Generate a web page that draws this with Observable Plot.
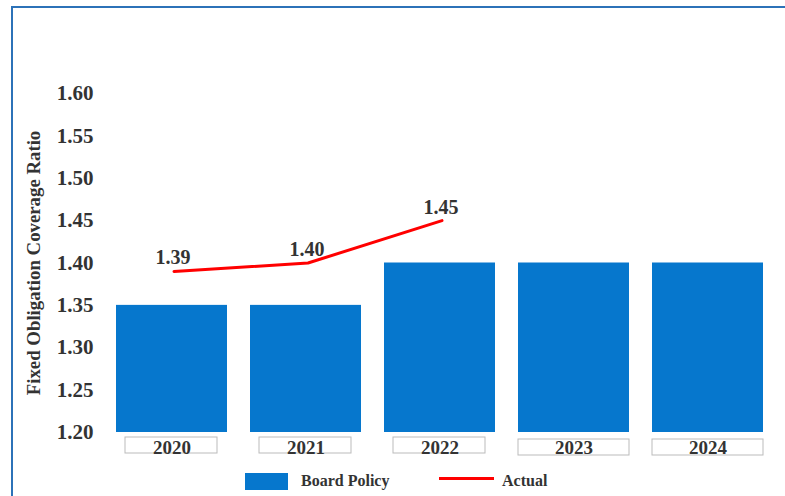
<!DOCTYPE html>
<html>
<head>
<meta charset="utf-8">
<script src="https://cdn.jsdelivr.net/npm/d3@7"></script>
<script src="https://cdn.jsdelivr.net/npm/@observablehq/plot@0.6"></script>
<style>
  html, body { margin: 0; padding: 0; background: #fff; }
  body { width: 785px; height: 496px; position: relative; overflow: hidden;
         font-family: "Liberation Serif", "Times New Roman", serif; }
  #frame { position: absolute; left: 11px; top: 6px; width: 800px; height: 520px;
           border-left: 2px solid #2C72B8; border-top: 2px solid #2C72B8; }
  #chart { position: absolute; left: 0; top: 0; }
  #legend { position: absolute; left: 0; top: 470px; width: 785px; height: 26px;
            font-weight: bold; font-size: 16px; color: #333; }
  .sw { position: absolute; }
  .lt { position: absolute; top: 2px; }
</style>
</head>
<body>
<div id="frame"></div>
<div id="chart"></div>
<div id="legend">
  <div class="sw" style="left:245px; top:3px; width:43px; height:17px; background:#0677CD;"></div>
  <div class="lt" style="left:301px;">Board Policy</div>
  <div class="sw" style="left:439px; top:7px; width:55px; height:3px; background:#FF0000;"></div>
  <div class="lt" style="left:502px;">Actual</div>
</div>
<script>
const years = ["2020", "2021", "2022", "2023", "2024"];
const boardPolicy = [1.35, 1.35, 1.40, 1.40, 1.40];
const actualYears = ["2020", "2021", "2022"];
const actual = [1.39, 1.40, 1.45];
const yTicks = [1.20, 1.25, 1.30, 1.35, 1.40, 1.45, 1.50, 1.55, 1.60];

const barData = years.map((y, i) => ({year: y, value: boardPolicy[i]}));
const lineData = actualYears.map((y, i) => ({year: y, value: actual[i]}));
const textColor = "#333333";

const chart = Plot.plot({
  width: 785,
  height: 470,
  marginTop: 93,
  marginBottom: 38,
  marginLeft: 105,
  marginRight: 10,
  style: {fontFamily: "'Liberation Serif', 'Times New Roman', serif", background: "transparent", color: textColor},
  x: {domain: years, paddingInner: 0.17, paddingOuter: 0.085, axis: null},
  y: {domain: [1.20, 1.60], ticks: yTicks, tickFormat: d => d.toFixed(2), label: null},
  marks: [
    Plot.axisY({ticks: yTicks, tickFormat: d => d.toFixed(2), tickSize: 0, tickPadding: 12,
                fontSize: 21, fontWeight: "bold", fill: textColor, label: null}),
    Plot.text(["Fixed Obligation Coverage Ratio"], {frameAnchor: "left", dx: -72, rotate: -90,
                textAnchor: "middle", fontSize: 18.8, fontWeight: "bold", fill: textColor}),
    Plot.barY(barData, {x: "year", y1: 1.20, y2: "value", fill: "#0677CD"}),
    // year label boxes below the axis
    Plot.barY(barData.slice(0, 3), {x: "year", y1: 1.20, y2: 1.20, insetTop: 5, insetBottom: -21,
                insetLeft: 9, insetRight: 10, fill: "white", stroke: "#BBBBBB", strokeWidth: 1}),
    Plot.barY(barData.slice(3), {x: "year", y1: 1.20, y2: 1.20, insetTop: 7, insetBottom: -23,
                fill: "white", stroke: "#BBBBBB", strokeWidth: 1}),
    Plot.text(barData, {x: "year", y: 1.20, text: "year", dy: 15, lineAnchor: "middle",
                fontSize: 19, fontWeight: "bold", fill: textColor}),
    Plot.line(lineData, {x: "year", y: "value", dx: 2, stroke: "#FF0000", strokeWidth: 3}),
    Plot.text(lineData, {x: "year", y: "value", text: d => d.value.toFixed(2), dx: 1, dy: -7,
                lineAnchor: "bottom", fontSize: 20, fontWeight: "bold", fill: textColor})
  ]
});
document.getElementById("chart").appendChild(chart);
</script>
</body>
</html>
